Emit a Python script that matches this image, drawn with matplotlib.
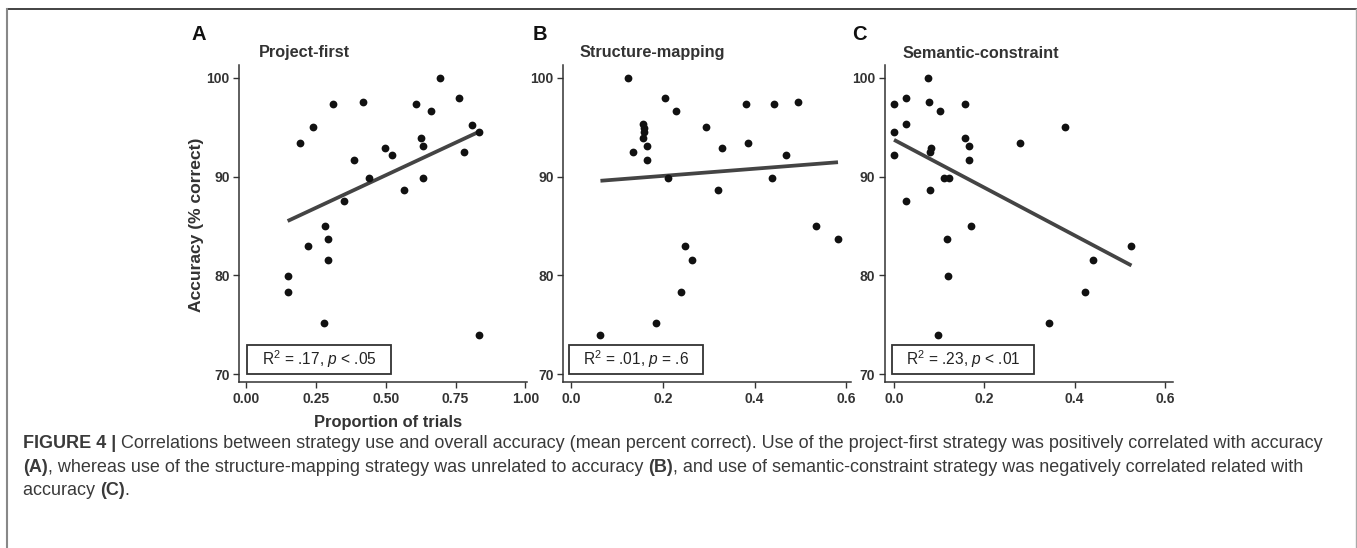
import numpy as np
import matplotlib
matplotlib.use("Agg")
import matplotlib.pyplot as plt
from matplotlib.lines import Line2D
from matplotlib.patches import Rectangle

plt.rcParams['font.family'] = ['Liberation Sans', 'DejaVu Sans']
plt.rcParams['mathtext.fontset'] = 'custom'
plt.rcParams['mathtext.rm'] = 'Liberation Sans'
plt.rcParams['mathtext.it'] = 'Liberation Sans:italic'
plt.rcParams['mathtext.bf'] = 'Liberation Sans:bold'

# panel A: project-first
a_x = [0.695, 0.313, 0.418, 0.609, 0.763, 0.663, 0.241, 0.194, 0.809, 0.835,
       0.627, 0.635, 0.496, 0.522, 0.779, 0.387, 0.441, 0.632, 0.564, 0.350,
       0.283, 0.293, 0.221, 0.293, 0.149, 0.149, 0.280, 0.835]
a_y = [100.0, 97.3, 97.6, 97.35, 98.0, 96.6, 95.0, 93.4, 95.25, 94.5,
       93.9, 93.05, 92.85, 92.2, 92.5, 91.65, 89.9, 89.9, 88.6, 87.5,
       85.0, 83.7, 83.0, 81.55, 79.9, 78.35, 75.2, 73.95]

# panel B: structure-mapping
b_x = [0.124, 0.204, 0.228, 0.381, 0.443, 0.494, 0.157, 0.159, 0.158, 0.157,
       0.135, 0.166, 0.166, 0.295, 0.330, 0.385, 0.469, 0.211, 0.439, 0.321,
       0.535, 0.582, 0.248, 0.263, 0.240, 0.186, 0.064]
b_y = [100.0, 98.0, 96.6, 97.4, 97.3, 97.6, 95.3, 94.9, 94.5, 93.9,
       92.45, 93.05, 91.65, 95.0, 92.85, 93.4, 92.2, 89.9, 89.9, 88.6,
       85.0, 83.7, 83.0, 81.55, 78.35, 75.2, 73.95]

# panel C: semantic-constraint
c_x = [0.075, 0.026, 0.001, 0.078, 0.102, 0.157, 0.027, 0.001, 0.000, 0.082,
       0.080, 0.157, 0.167, 0.167, 0.278, 0.379, 0.111, 0.122, 0.080, 0.027,
       0.171, 0.117, 0.120, 0.526, 0.441, 0.424, 0.344, 0.097]
c_y = [100.0, 98.0, 97.4, 97.6, 96.6, 97.3, 95.3, 94.5, 92.2, 92.85,
       92.45, 93.9, 93.05, 91.65, 93.4, 95.0, 89.9, 89.9, 88.6, 87.5,
       85.0, 83.7, 79.9, 83.0, 81.55, 78.35, 75.2, 73.95]

# fitted lines (intercept, slope)
a_fit = (83.53, 13.2)
b_fit = (89.34, 3.63)
c_fit = (93.72, -24.2)

titles = ['Project-first', 'Structure-mapping', 'Semantic-constraint']
letters = ['A', 'B', 'C']
stats = [r'R$^{2}$ = .17, $\mathit{p}$ < .05',
         r'R$^{2}$ = .01, $\mathit{p}$ = .6',
         r'R$^{2}$ = .23, $\mathit{p}$ < .01']
a_ticks = [0.0, 0.25, 0.5, 0.75, 1.0]
a_ticklabels = ['0.00', '0.25', '0.50', '0.75', '1.00']
bc_ticks = [0.0, 0.2, 0.4, 0.6]
bc_ticklabels = ['0.0', '0.2', '0.4', '0.6']
y_ticks = [70, 80, 90, 100]

W, H = 1357, 548
fig = plt.figure(figsize=(W / 100, H / 100), dpi=100)

def fx(p):
    return p / W

def fy(p):
    return 1 - p / H

ax_left = [239.3, 563.3, 885.0]
ax_xlim = [(-0.024, 1.007), (-0.017, 0.611), (-0.02, 0.618)]
box_x = [(0.027, 0.527), (0.020, 0.485), (0.024, 0.517)]
title_left = [259.3, 580.0, 902.3]
letter_left = [191.0, 533.0, 852.0]
data = [(a_x, a_y, a_fit), (b_x, b_y, b_fit), (c_x, c_y, c_fit)]

ink = '#333333'
for i in range(3):
    ax = fig.add_axes([fx(ax_left[i]), fy(382.3), 288 / W, (382.3 - 65) / H])
    xs, ys, fit = data[i]
    xs = np.array(xs)
    xl = np.array([xs.min(), xs.max()])
    ax.plot(xl, fit[0] + fit[1] * xl, color='#444444', lw=2.7, solid_capstyle='butt', zorder=2)
    ax.plot(xs, ys, 'o', color='#111111', ms=5.6, mec='none', zorder=3)
    ax.set_xlim(*ax_xlim[i])
    ax.set_ylim(69.16, 101.3)
    ax.set_yticks(y_ticks)
    if i == 0:
        ax.set_xticks(a_ticks)
        ax.set_xticklabels(a_ticklabels)
    else:
        ax.set_xticks(bc_ticks)
        ax.set_xticklabels(bc_ticklabels)
    for s in ['top', 'right']:
        ax.spines[s].set_visible(False)
    for s in ['left', 'bottom']:
        ax.spines[s].set_color(ink)
        ax.spines[s].set_linewidth(1.1)
    ax.tick_params(direction='out', length=4, width=1, color=ink, labelcolor=ink,
                   labelsize=10, pad=3)
    for lab in ax.get_xticklabels() + ax.get_yticklabels():
        lab.set_fontweight('bold')
    x0, x1 = box_x[i]
    ax.add_patch(Rectangle((x0, 0.026), x1 - x0, 0.0915, transform=ax.transAxes,
                           fill=False, ec=ink, lw=1.3, zorder=4))
    ax.text((x0 + x1) / 2, 0.026 + 0.0915 / 2, stats[i], transform=ax.transAxes,
            ha='center', va='center', fontsize=11.2, color='#222222', zorder=5)
    fig.text(fx(title_left[i]), fy(53), titles[i], ha='left', va='center',
             fontsize=11.7, fontweight='bold', color=ink)
    fig.text(fx(letter_left[i]), fy(35), letters[i], ha='left', va='center',
             fontsize=14.5, fontweight='bold', color='#111111')

fig.text(fx(196.7), fy(225), 'Accuracy (% correct)', rotation=90, ha='center',
         va='center', fontsize=12.6, fontweight='bold', color=ink)
fig.text(fx(388), fy(423), 'Proportion of trials', ha='center', va='center',
         fontsize=11.9, fontweight='bold', color=ink)

# caption, built from chained pieces so bold parts sit inline
cap_color = '#3a3a3a'
cap_size = 13.0
lines = [
    [('FIGURE 4 | ', 'bold'),
     ('Correlations between strategy use and overall accuracy (mean percent correct). '
      'Use of the project-first strategy was positively correlated with accuracy', 'normal')],
    [('(A)', 'bold'),
     (', whereas use of the structure-mapping strategy was unrelated to accuracy ', 'normal'),
     ('(B)', 'bold'),
     (', and use of semantic-constraint strategy was negatively correlated related with', 'normal')],
    [('accuracy ', 'normal'), ('(C)', 'bold'), ('.', 'normal')],
]
line_y = [443.5, 467, 490.5]
for ln, yy in zip(lines, line_y):
    last = None
    for txt, wt in ln:
        if last is None:
            last = fig.text(fx(23), fy(yy), txt, ha='left', va='center',
                            fontsize=cap_size, fontweight=wt, color=cap_color)
        else:
            last = plt.annotate(txt, xy=(1, 0), xycoords=last, ha='left', va='bottom',
                                fontsize=cap_size, fontweight=wt, color=cap_color,
                                annotation_clip=False)

# frame around the figure
fig.add_artist(Line2D([fx(7), fx(1357)], [fy(9), fy(9)], color='#222222', lw=1.2))
fig.add_artist(Line2D([fx(7.3), fx(7.3)], [fy(9), 0], color='#888888', lw=1.5))
fig.add_artist(Line2D([fx(1355.5), fx(1355.5)], [fy(9), 0], color='#aaaaaa', lw=1.0))

fig.savefig('out.png', dpi=100)
